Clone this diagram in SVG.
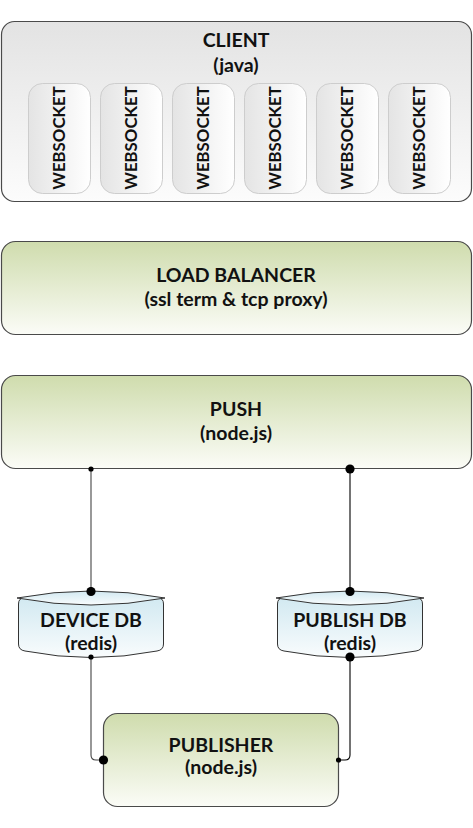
<svg xmlns="http://www.w3.org/2000/svg" width="473" height="828" viewBox="0 0 473 828">
  <defs>
    <linearGradient id="gGrey" x1="0" y1="0" x2="0" y2="1">
      <stop offset="0" stop-color="#e3e3e3"/>
      <stop offset="1" stop-color="#fcfcfc"/>
    </linearGradient>
    <linearGradient id="gWs" x1="0" y1="0" x2="1" y2="0">
      <stop offset="0" stop-color="#e4e4e4"/>
      <stop offset="1" stop-color="#ffffff"/>
    </linearGradient>
    <linearGradient id="gGreen" x1="0" y1="0" x2="0" y2="1">
      <stop offset="0" stop-color="#cfdcad"/>
      <stop offset="1" stop-color="#fbfcf7"/>
    </linearGradient>
    <linearGradient id="gBlue" x1="0" y1="0" x2="0" y2="1">
      <stop offset="0" stop-color="#d2e9f1"/>
      <stop offset="1" stop-color="#f9fcfd"/>
    </linearGradient>
    <marker id="dotBig" viewBox="-5 -5 10 10" markerWidth="10" markerHeight="10" markerUnits="userSpaceOnUse" refX="0" refY="0">
      <circle r="4.6" fill="#000"/>
    </marker>
    <marker id="dotSmall" viewBox="-3 -3 6 6" markerWidth="6" markerHeight="6" markerUnits="userSpaceOnUse" refX="0" refY="0">
      <circle r="2.6" fill="#000"/>
    </marker>
  </defs>
  <style>
    text { font-family: Lato, "Open Sans", "Liberation Sans", sans-serif; font-weight: bold; fill: #111; text-anchor: middle; }
    .lbl { font-size: 19.5px; }
    .ws { font-size: 16.8px; }
    .box { stroke: #4a4a4a; stroke-width: 1.2; }
    .green { fill: url(#gGreen); }
    .wsbox { fill: url(#gWs); stroke: #cdcdcd; stroke-width: 1; }
    .db { fill: url(#gBlue); stroke: #333; stroke-width: 1; }
    .conn { fill: none; stroke-width: 1.1; }
  </style>

  <g id="client">
    <rect class="box" x="1.5" y="21.5" width="470" height="180" rx="13" fill="url(#gGrey)"/>
    <text class="lbl" x="236" y="47">CLIENT</text>
    <text class="lbl" x="236" y="72">(java)</text>
  </g>
  <g id="ws1"><rect class="wsbox" x="28.5" y="83.5" width="62" height="110" rx="14"/><text class="ws" transform="translate(65,138) rotate(-90)">WEBSOCKET</text></g>
  <g id="ws2"><rect class="wsbox" x="100.5" y="83.5" width="62" height="110" rx="14"/><text class="ws" transform="translate(137,138) rotate(-90)">WEBSOCKET</text></g>
  <g id="ws3"><rect class="wsbox" x="172.5" y="83.5" width="62" height="110" rx="14"/><text class="ws" transform="translate(209,138) rotate(-90)">WEBSOCKET</text></g>
  <g id="ws4"><rect class="wsbox" x="244.5" y="83.5" width="62" height="110" rx="14"/><text class="ws" transform="translate(281,138) rotate(-90)">WEBSOCKET</text></g>
  <g id="ws5"><rect class="wsbox" x="316.5" y="83.5" width="62" height="110" rx="14"/><text class="ws" transform="translate(353,138) rotate(-90)">WEBSOCKET</text></g>
  <g id="ws6"><rect class="wsbox" x="388.5" y="83.5" width="62" height="110" rx="14"/><text class="ws" transform="translate(425,138) rotate(-90)">WEBSOCKET</text></g>

  <g id="loadbalancer">
    <rect class="box green" x="1.5" y="241.5" width="470" height="93" rx="14"/>
    <text class="lbl" x="236" y="282">LOAD BALANCER</text>
    <text class="lbl" x="236" y="306">(ssl term &amp; tcp proxy)</text>
  </g>

  <g id="push">
    <rect class="box green" x="1.5" y="375.5" width="470" height="93" rx="14"/>
    <text class="lbl" x="236" y="416">PUSH</text>
    <text class="lbl" x="236" y="440">(node.js)</text>
  </g>

  <g id="devicedb">
    <path class="db" d="M18.5,604 Q18.5,598 24,598 L158,598 Q163.5,598 163.5,604 L163.5,644 Q163.5,650 157,651 Q91,664 25,651 Q18.5,650 18.5,644 Z"/>
    <path class="db" d="M17,598 Q91,584 165,598 Q91,612 17,598 Z"/>
    <text class="lbl" x="91" y="627">DEVICE DB</text>
    <text class="lbl" x="91" y="650">(redis)</text>
  </g>

  <g id="publishdb">
    <path class="db" d="M277.5,604 Q277.5,598 283,598 L417,598 Q422.5,598 422.5,604 L422.5,644 Q422.5,650 416,651 Q350,664 284,651 Q277.5,650 277.5,644 Z"/>
    <path class="db" d="M276,598 Q350,584 424,598 Q350,612 276,598 Z"/>
    <text class="lbl" x="350" y="627">PUBLISH DB</text>
    <text class="lbl" x="350" y="650">(redis)</text>
  </g>

  <g id="publisher">
    <rect class="box green" x="103.5" y="713.5" width="235" height="93" rx="14"/>
    <text class="lbl" x="221" y="752">PUBLISHER</text>
    <text class="lbl" x="221" y="774">(node.js)</text>
  </g>

  <g id="connectors">
    <path class="conn" stroke="#444" d="M91,469 L91,591.5" marker-start="url(#dotSmall)" marker-end="url(#dotBig)"/>
    <path class="conn" stroke="#000" d="M350,469 L350,591.5" marker-start="url(#dotBig)" marker-end="url(#dotBig)"/>
    <path class="conn" stroke="#444" d="M91,657 L91,755 Q91,760 96,760 L103.5,760" marker-start="url(#dotSmall)" marker-end="url(#dotBig)"/>
    <path class="conn" stroke="#000" d="M350,657 L350,755 Q350,760 345,760 L338.5,760" marker-start="url(#dotBig)" marker-end="url(#dotSmall)"/>
  </g>
</svg>
